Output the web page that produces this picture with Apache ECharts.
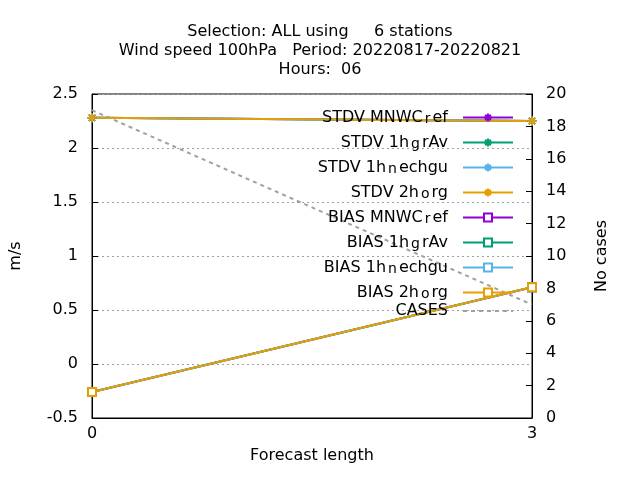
<!DOCTYPE html>
<html>
<head>
<meta charset="utf-8">
<script src="https://cdn.jsdelivr.net/npm/echarts@6/dist/echarts.min.js"></script>
<style>html,body{margin:0;padding:0;background:#fff}#chart{width:640px;height:480px}</style>
</head>
<body>
<div id="chart"></div>
<script>
// Datos
var forecastLengths = [0, 3];
var stdvValues = [2.28, 2.25];
var biasValues = [-0.26, 0.71];
var casesValues = [19, 7];

var names = [
    ['STDV MNWC', 'r', 'ef'], ['STDV 1h', 'g', 'rAv'], ['STDV 1h', 'n', 'echgu'], ['STDV 2h', 'o', 'rg'],
    ['BIAS MNWC', 'r', 'ef'], ['BIAS 1h', 'g', 'rAv'], ['BIAS 1h', 'n', 'echgu'], ['BIAS 2h', 'o', 'rg']
];
var colors = ['#9400d3', '#009e73', '#56b4e9', '#e69f00'];
var star = 'path://M5,0L5,10M0,5L10,5M1.5,1.5L8.5,8.5M8.5,1.5L1.5,8.5';

function pairs(vals) {
    return forecastLengths.map(function (x, i) { return [x, vals[i]]; });
}

var chart = echarts.init(document.getElementById('chart'));
var series = [];
names.forEach(function (n, i) {
    var isStdv = i < 4;
    var c = colors[i % 4];
    series.push({
        name: n.join('|'),
        type: 'line',
        yAxisIndex: 0,
        data: pairs(isStdv ? stdvValues : biasValues),
        symbol: isStdv ? star : 'emptyRect',
        symbolSize: isStdv ? 9 : 8,
        clip: false,
        lineStyle: { color: c, width: 2 },
        itemStyle: isStdv ? { color: c, borderColor: c, borderWidth: 1.5 } : { color: c, borderWidth: 1.5 }
    });
});
series.push({
    name: 'CASES',
    type: 'line',
    yAxisIndex: 1,
    data: pairs(casesValues),
    symbol: 'none',
    lineStyle: { color: '#a0a0a0', width: 2, type: [4, 4] },
    itemStyle: { color: '#a0a0a0' },
    z: 1
});

var font = 'DejaVu Sans';
var legendData = series.map(function (s) {
    if (s.name === 'CASES') return { name: 'CASES', itemStyle: { opacity: 0 } };
    return { name: s.name };
});

chart.setOption({
    animation: false,
    textStyle: { fontFamily: font },
    title: {
        text: 'Selection: ALL using     6 stations\nWind speed 100hPa   Period: 20220817-20220821\nHours:  06',
        left: 'center',
        top: 17,
        textStyle: { fontSize: 16, fontWeight: 'normal', color: '#000', lineHeight: 19, fontFamily: font }
    },
    legend: {
        orient: 'vertical',
        right: 121,
        top: 98,
        align: 'right',
        itemWidth: 50,
        itemHeight: 10,
        itemGap: 2,
        data: legendData,
        formatter: function (name) {
            var p = name.split('|');
            if (p.length === 1) return '{n|' + name + '}';
            return '{n|' + p[0] + '}{s|' + p[1] + '}{n|' + p[2] + '}';
        },
        textStyle: {
            color: '#000',
            padding: [0, 10, 0, 0],
            rich: {
                n: { fontSize: 16, lineHeight: 17, fontFamily: font, color: '#000' },
                s: { fontSize: 14, lineHeight: 17, fontFamily: font, color: '#000', verticalAlign: 'bottom', padding: [9, 2, 0, 2] }
            }
        }
    },
    grid: { left: 91, right: 108, top: 94, bottom: 62, show: true, borderColor: '#000', borderWidth: 1 },
    xAxis: {
        type: 'value', min: 0, max: 3, interval: 3,
        name: 'Forecast length', nameLocation: 'middle', nameGap: 30,
        nameTextStyle: { fontSize: 16, color: '#000' },
        axisLine: { onZero: false, lineStyle: { color: '#000' } },
        axisTick: { inside: true, length: 6, lineStyle: { color: '#000' } },
        axisLabel: { fontSize: 16, color: '#000' },
        splitLine: { show: false }
    },
    yAxis: [{
        type: 'value', min: -0.5, max: 2.5, interval: 0.5,
        name: 'm/s', nameLocation: 'middle', nameGap: 68,
        nameTextStyle: { fontSize: 16, color: '#000' },
        axisLine: { show: true, onZero: false, lineStyle: { color: '#000' } },
        axisTick: { show: true, inside: true, length: 6, lineStyle: { color: '#000' } },
        axisLabel: { fontSize: 16, color: '#000', margin: 14 },
        splitLine: { show: true, lineStyle: { color: '#a0a0a0', type: [2, 3] } }
    }, {
        type: 'value', min: 0, max: 20, interval: 2,
        name: 'No cases', nameLocation: 'middle', nameGap: 62,
        nameTextStyle: { fontSize: 16, color: '#000' },
        axisLine: { show: true, onZero: false, lineStyle: { color: '#000' } },
        axisTick: { show: true, inside: true, length: 6, lineStyle: { color: '#000' } },
        axisLabel: { fontSize: 16, color: '#000', margin: 14 },
        splitLine: { show: false }
    }],
    series: series
});
</script>
</body>
</html>
